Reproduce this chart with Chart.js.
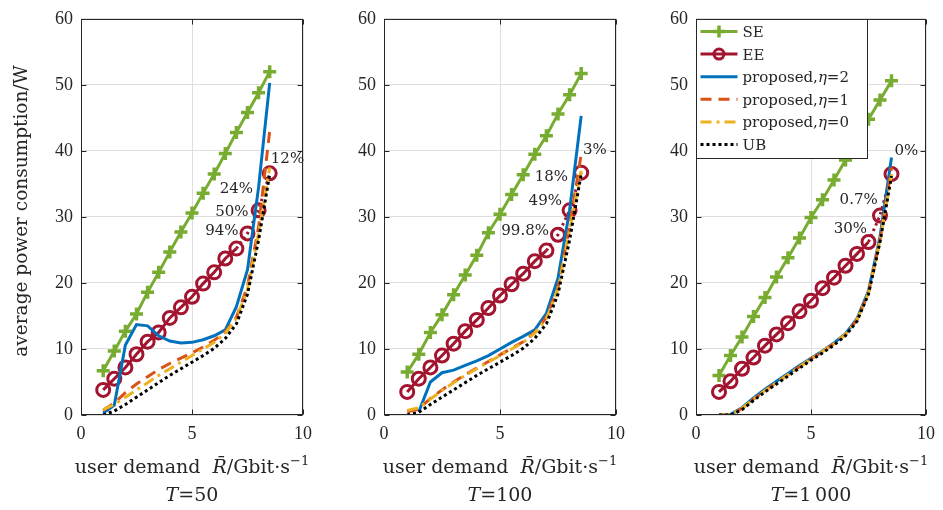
<!DOCTYPE html>
<html>
<head>
<meta charset="utf-8">
<title>average power consumption vs user demand</title>
<script src="https://cdn.jsdelivr.net/npm/chart.js@4.4.1/dist/chart.umd.min.js"></script>
<style>
    html, body { margin: 0; padding: 0; background: #ffffff; }
    #wrap { position: relative; width: 943px; height: 510px; overflow: hidden; }
    #wrap canvas { position: absolute; top: 0; }
</style>
</head>
<body>
<div id="wrap">
    <canvas id="panelT50" width="320" height="510" style="left:0px"></canvas>
    <canvas id="panelT100" width="320" height="510" style="left:318px"></canvas>
    <canvas id="panelT1000" width="320" height="510" style="left:623px"></canvas>
</div>
<script>
// Data
const demand = [1, 1.5, 2, 2.5, 3, 3.5, 4, 4.5, 5, 5.5, 6, 6.5, 7, 7.5, 8, 8.5];
const seriesNames = ['SE', 'EE', 'proposed,η=2', 'proposed,η=1', 'proposed,η=0', 'UB'];
const xTicks = [0, 5, 10];
const yTicks = [0, 10, 20, 30, 40, 50, 60];

// T = 50
const seT50    = [6.7, 9.7, 12.7, 15.3, 18.6, 21.6, 24.7, 27.7, 30.6, 33.6, 36.5, 39.6, 42.8, 45.8, 48.8, 52.0];
const eeT50    = [3.8, 5.5, 7.2, 9.2, 11.1, 12.5, 14.7, 16.3, 17.9, 19.9, 21.6, 23.7, 25.2, 27.5, 31.0, 36.6];
const prop2T50 = [0.3, 1.5, 10.6, 13.7, 13.5, 12.0, 11.2, 10.9, 11.0, 11.4, 12.0, 12.9, 16.4, 22.0, 34.5, 50.3];
const prop1T50 = [0.7, 1.8, 3.4, 4.7, 5.8, 6.9, 7.8, 8.6, 9.4, 10.3, 11.3, 12.6, 14.8, 19.5, 28.5, 43.0];
const prop0T50 = [0.8, 1.6, 2.7, 3.8, 4.9, 6.0, 7.0, 8.0, 9.0, 10.0, 11.0, 12.4, 14.6, 19.0, 27.5, 37.5];
const ubT50    = [0.0, 0.6, 1.6, 2.7, 3.8, 4.9, 6.0, 7.0, 8.0, 9.0, 10.1, 11.6, 13.8, 18.3, 26.5, 36.5];
const noteTextT50 = ['94%', '50%', '24%', '12%'];
const noteXT50    = [7.1, 7.55, 7.75, 8.55];
const noteYT50    = [27.8, 30.8, 34.2, 38.7];

// T = 100
const seT100    = [6.5, 9.2, 12.5, 15.2, 18.2, 21.2, 24.2, 27.6, 30.4, 33.4, 36.4, 39.5, 42.3, 45.6, 48.5, 51.7];
const eeT100    = [3.5, 5.5, 7.2, 9.0, 10.8, 12.7, 14.4, 16.2, 18.1, 19.8, 21.4, 23.3, 24.9, 27.3, 31.0, 36.7];
const prop2T100 = [null, 0.5, 5.0, 6.4, 6.8, 7.5, 8.2, 9.0, 10.0, 11.0, 11.9, 12.9, 15.4, 20.7, 31.0, 45.3];
const prop1T100 = [0.5, 0.9, 2.5, 3.8, 5.0, 6.1, 7.1, 8.1, 9.1, 10.1, 11.1, 12.5, 14.8, 19.3, 28.5, 39.5];
const prop0T100 = [0.7, 1.1, 2.4, 3.7, 4.9, 6.0, 7.0, 8.0, 9.0, 10.0, 11.0, 12.4, 14.6, 19.0, 28.0, 37.0];
const ubT100    = [0.0, 0.4, 1.6, 2.7, 3.8, 4.9, 6.0, 7.0, 8.0, 9.0, 10.1, 11.6, 13.8, 18.3, 26.5, 36.5];
const noteTextT100 = ['99.8%', '49%', '18%', '3%'];
const noteXT100    = [7.11, 7.67, 7.93, 8.58];
const noteYT100    = [27.8, 32.4, 36.1, 40.1];

// T = 1000
const seT1000    = [6.0, 9.0, 11.8, 14.9, 17.8, 20.9, 23.8, 26.8, 29.9, 32.6, 35.6, 38.6, 41.6, 44.8, 47.7, 50.6];
const eeT1000    = [3.5, 5.1, 7.0, 8.7, 10.5, 12.2, 13.9, 15.7, 17.3, 19.2, 20.8, 22.6, 24.4, 26.2, 30.2, 36.5];
const prop2T1000 = [0.0, 0.1, 1.1, 2.6, 3.9, 5.1, 6.3, 7.5, 8.6, 9.7, 10.9, 12.3, 14.6, 18.8, 27.0, 39.0];
const prop1T1000 = [0.0, 0.0, 1.0, 2.4, 3.7, 4.9, 6.1, 7.3, 8.5, 9.6, 10.8, 12.2, 14.4, 18.5, 26.5, 37.5];
const prop0T1000 = [0.0, 0.0, 1.0, 2.4, 3.7, 4.9, 6.1, 7.3, 8.5, 9.6, 10.8, 12.2, 14.4, 18.5, 26.5, 36.5];
const ubT1000    = [0.0, 0.0, 0.8, 2.2, 3.5, 4.7, 5.9, 7.1, 8.3, 9.4, 10.6, 12.0, 14.2, 18.3, 26.2, 36.2];
const noteTextT1000 = ['30%', '0.7%', '0%'];
const noteXT1000    = [7.44, 7.9, 8.63];
const noteYT1000    = [28.1, 32.5, 39.9];

// Styling
const TICK_FONT = "'Liberation Serif', 'Times New Roman', serif";
const TEXT_FONT = "'DejaVu Serif', 'Liberation Serif', serif";
const INK = '#262626';
const GRID = '#dedede';
const COLORS = ['#77AC30', '#A2142F', '#0072BD', '#D95319', '#EDB120', '#000000'];
const DASHES = [[], [], [], [11, 7], [11, 5, 3, 5], [3, 3]];

Chart.defaults.animation = false;

// Turn a list of y values into {x, y} points on the demand axis
function toPoints(values) {
    return demand.map((d, i) => ({ x: d, y: values[i] }));
}

function buildDatasets(series, dotFrom) {
    return series.map((values, i) => {
        const ds = {
            label: seriesNames[i],
            data: toPoints(values),
            borderColor: COLORS[i],
            borderWidth: 3,
            borderDash: DASHES[i],
            pointRadius: 0,
            tension: 0,
            order: series.length - 1 - i
        };
        if (i === 0) {
            Object.assign(ds, { pointStyle: 'cross', pointRadius: 6.5, pointBorderWidth: 3.5, pointBorderColor: COLORS[i] });
        }
        if (i === 1) {
            Object.assign(ds, {
                pointStyle: 'circle', pointRadius: 6.5, pointBorderWidth: 3,
                pointBorderColor: COLORS[i], pointBackgroundColor: 'rgba(0,0,0,0)',
                segment: { borderDash: ctx => ctx.p0.parsed.x >= dotFrom ? [2.5, 3.5] : undefined }
            });
        }
        return ds;
    });
}

// Draw a line of text made of normal / italic / superscript parts
function drawRich(ctx, parts, x, baseline, size, align) {
    const fontFor = st => st === 'i' ? `italic ${size}px ${TEXT_FONT}`
        : st === 'sup' ? `${Math.round(size * 0.7)}px ${TEXT_FONT}`
        : `${size}px ${TEXT_FONT}`;
    let total = 0;
    parts.forEach(([t, st]) => { ctx.font = fontFor(st); total += ctx.measureText(t).width; });
    let cx = align === 'center' ? x - total / 2 : x;
    ctx.textAlign = 'left';
    ctx.textBaseline = 'alphabetic';
    parts.forEach(([t, st]) => {
        ctx.font = fontFor(st);
        ctx.fillText(t, cx, st === 'sup' ? baseline - size * 0.42 : baseline);
        cx += ctx.measureText(t).width;
    });
}

function nameParts(name) {
    const k = name.indexOf('η');
    if (k < 0) return [[name, 'n']];
    return [[name.slice(0, k), 'n'], ['η', 'i'], [name.slice(k + 1), 'n']];
}

// Box, inward ticks, labels, notes and legend
const panelDecor = {
    id: 'panelDecor',
    afterDraw(chart, args, opts) {
        const { ctx, chartArea: a, scales: { x, y } } = chart;
        const L = Math.round(a.left) + 0.5, R = Math.round(a.right) - 0.5;
        const T = Math.round(a.top) + 0.5, B = Math.round(a.bottom) - 0.5;
        ctx.save();

        // axes box
        ctx.strokeStyle = INK;
        ctx.lineWidth = 1;
        ctx.setLineDash([]);
        ctx.strokeRect(L, T, R - L, B - T);

        // inward ticks on all four sides
        ctx.beginPath();
        yTicks.forEach(v => {
            const py = Math.round(y.getPixelForValue(v)) + 0.5;
            ctx.moveTo(L, py); ctx.lineTo(L + 5, py);
            ctx.moveTo(R, py); ctx.lineTo(R - 5, py);
        });
        xTicks.forEach(v => {
            const px = Math.round(x.getPixelForValue(v)) + 0.5;
            ctx.moveTo(px, B); ctx.lineTo(px, B - 5);
            ctx.moveTo(px, T); ctx.lineTo(px, T + 5);
        });
        ctx.stroke();

        // percentage notes next to the EE curve
        ctx.fillStyle = INK;
        ctx.font = `15px ${TEXT_FONT}`;
        ctx.textBaseline = 'middle';
        opts.noteText.forEach((t, i) => {
            ctx.textAlign = i === opts.noteText.length - 1 ? 'left' : 'right';
            ctx.fillText(t, x.getPixelForValue(opts.noteX[i]), y.getPixelForValue(opts.noteY[i]));
        });

        // x label and panel caption
        const mid = (a.left + a.right) / 2;
        drawRich(ctx, [['user demand  ', 'n'], ['R\u0304', 'i'], ['/Gbit\u00b7s', 'n'], ['\u22121', 'sup']], mid, 473, 19, 'center');
        drawRich(ctx, [['T', 'i'], ['=' + opts.tValue, 'n']], mid, 501, 19, 'center');

        // y label (left panel only)
        if (opts.yTitle) {
            ctx.save();
            ctx.translate(22, 211);
            ctx.rotate(-Math.PI / 2);
            ctx.font = `18.5px ${TEXT_FONT}`;
            ctx.textAlign = 'center';
            ctx.textBaseline = 'middle';
            ctx.fillText('average power consumption/W', 0, 0);
            ctx.restore();
        }

        // legend box inside the right panel
        if (opts.legend) {
            const bx = L, by = T, bw = 171, bh = 139;
            ctx.fillStyle = '#ffffff';
            ctx.fillRect(bx, by, bw, bh);
            ctx.strokeStyle = INK;
            ctx.lineWidth = 1;
            ctx.strokeRect(bx, by, bw, bh);
            chart.data.datasets.forEach((ds, i) => {
                const ry = by + 12 + i * 22.6;
                const x0 = bx + 4, x1 = bx + 41;
                ctx.strokeStyle = ds.borderColor;
                ctx.lineWidth = ds.borderWidth;
                ctx.setLineDash(ds.borderDash || []);
                ctx.beginPath();
                ctx.moveTo(x0, ry); ctx.lineTo(x1, ry);
                ctx.stroke();
                ctx.setLineDash([]);
                const mx = (x0 + x1) / 2;
                if (ds.pointStyle === 'cross') {
                    ctx.lineWidth = ds.pointBorderWidth;
                    ctx.beginPath();
                    ctx.moveTo(mx - 6, ry); ctx.lineTo(mx + 6, ry);
                    ctx.moveTo(mx, ry - 6); ctx.lineTo(mx, ry + 6);
                    ctx.stroke();
                } else if (ds.pointStyle === 'circle') {
                    ctx.lineWidth = ds.pointBorderWidth;
                    ctx.beginPath();
                    ctx.arc(mx, ry, 5, 0, Math.PI * 2);
                    ctx.stroke();
                }
                ctx.fillStyle = INK;
                drawRich(ctx, nameParts(ds.label), bx + 46, ry + 5.5, 15, 'left');
            });
        }
        ctx.restore();
    }
};

function makePanel(canvasId, series, dotFrom, yWidth, padRight, decor) {
    const ctx = document.getElementById(canvasId).getContext('2d');
    return new Chart(ctx, {
        type: 'line',
        data: { datasets: buildDatasets(series, dotFrom) },
        plugins: [panelDecor],
        options: {
            responsive: false,
            layout: { padding: { top: 13, right: padRight, bottom: 0, left: 0 } },
            scales: {
                x: {
                    type: 'linear', min: 0, max: 10,
                    afterBuildTicks: s => { s.ticks = xTicks.map(v => ({ value: v })); },
                    ticks: { padding: 8, color: INK, maxRotation: 0, font: { family: TICK_FONT, size: 18 } },
                    grid: { color: GRID, drawTicks: false },
                    border: { display: false },
                    afterFit: s => { s.height = 95; }
                },
                y: {
                    type: 'linear', min: 0, max: 60,
                    afterBuildTicks: s => { s.ticks = yTicks.map(v => ({ value: v })); },
                    ticks: { padding: 8, color: INK, font: { family: TICK_FONT, size: 18 } },
                    grid: { color: GRID, drawTicks: false },
                    border: { display: false },
                    afterFit: s => { s.width = yWidth; }
                }
            },
            plugins: {
                legend: { display: false },
                tooltip: { enabled: false },
                panelDecor: decor
            }
        }
    });
}

document.addEventListener('DOMContentLoaded', () => {
    makePanel('panelT50', [seT50, eeT50, prop2T50, prop1T50, prop0T50, ubT50], 7, 81, 11, {
        tValue: '50', noteText: noteTextT50, noteX: noteXT50, noteY: noteYT50, yTitle: true, legend: false
    });
    makePanel('panelT100', [seT100, eeT100, prop2T100, prop1T100, prop0T100, ubT100], 7, 66, 22, {
        tValue: '100', noteText: noteTextT100, noteX: noteXT100, noteY: noteYT100, yTitle: false, legend: false
    });
    makePanel('panelT1000', [seT1000, eeT1000, prop2T1000, prop1T1000, prop0T1000, ubT1000], 7.5, 73, 13, {
        tValue: '1\u2009000', noteText: noteTextT1000, noteX: noteXT1000, noteY: noteYT1000, yTitle: false, legend: true
    });
});
</script>
</body>
</html>
